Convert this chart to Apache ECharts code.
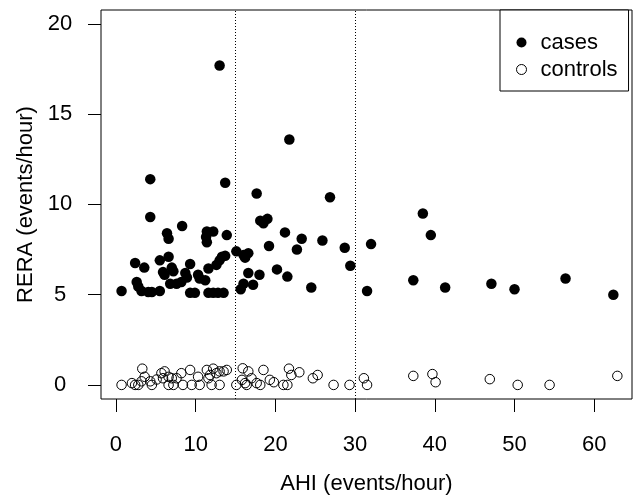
<!DOCTYPE html>
<html>
<head>
<meta charset="utf-8">
<script src="https://cdn.jsdelivr.net/npm/echarts@6/dist/echarts.min.js"></script>
<style>
html,body{margin:0;padding:0;background:#fff;}
#chart{width:635px;height:496px;}
</style>
</head>
<body>
<div id="chart"></div>
<script>
var seriesNames = ['cases', 'controls'];
var xTicks = [0, 10, 20, 30, 40, 50, 60];
var yTicks = [0, 5, 10, 15, 20];
var refLines = [15, 30];

var casesAHI = [0.7, 2.4, 2.6, 2.8, 3.2, 3.55, 4.05, 4.3, 4.3, 4.5, 5.5, 5.5, 5.9, 6.1, 6.4, 6.6, 6.6, 6.8, 7.0, 7.2,
  7.6, 8.2, 8.3, 8.7, 8.9, 9.3, 9.3, 9.9, 10.3, 10.5, 11.2, 11.4, 11.3, 11.4, 12.2, 11.6, 11.6, 12.2, 12.6, 12.8,
  13.0, 13.3, 13.7, 13.0, 13.5, 13.7, 13.9, 15.1, 15.65, 16.0, 16.0, 16.2, 16.6, 16.6, 17.2, 17.65, 18.0, 18.1, 18.5, 19.0,
  19.2, 20.2, 21.2, 21.5, 21.75, 22.7, 23.3, 24.5, 25.9, 26.85, 28.7, 29.4, 31.5, 32.0, 37.3, 38.5, 39.5, 41.3, 47.1, 50.0,
  56.4, 62.4];
var casesRERA = [5.2, 6.75, 5.7, 5.45, 5.2, 6.5, 5.15, 11.4, 9.3, 5.15, 6.9, 5.2, 6.25, 6.1, 8.4, 8.1, 7.1, 5.6, 6.5, 6.3,
  5.6, 5.7, 8.8, 6.2, 5.95, 6.7, 5.1, 5.1, 6.1, 5.9, 5.8, 8.5, 8.2, 7.9, 8.5, 6.45, 5.1, 5.1, 6.65, 5.1,
  6.9, 7.1, 7.15, 17.7, 5.1, 11.2, 8.3, 7.4, 5.3, 7.2, 5.6, 7.05, 7.3, 6.2, 5.55, 10.6, 6.1, 9.1, 8.95, 9.2,
  7.7, 6.4, 8.45, 6.0, 13.6, 7.5, 8.1, 5.4, 8.0, 10.4, 7.6, 6.6, 5.2, 7.8, 5.8, 9.5, 8.3, 5.4, 5.6, 5.3,
  5.9, 5.0];

var controlsAHI = [0.7, 2.0, 2.4, 2.8, 3.2, 3.3, 3.6, 4.3, 4.5, 5.1, 5.7, 6.1, 5.9, 6.6, 7.0, 6.6, 7.2, 7.6, 8.2, 8.4,
  9.3, 9.5, 10.3, 10.5, 11.4, 11.6, 11.8, 12.2, 12.6, 13.0, 13.5, 13.9, 12.0, 13.0, 15.1, 15.9, 15.8, 16.2, 16.4, 17.0,
  16.6, 18.5, 17.65, 18.1, 19.3, 19.8, 21.0, 21.5, 21.7, 22.0, 23.0, 24.7, 25.3, 27.3, 29.3, 31.1, 31.5, 37.3, 39.7, 40.1,
  46.9, 50.4, 54.4, 62.9];
var controlsRERA = [0.0, 0.1, 0.0, 0.0, 0.2, 0.9, 0.45, 0.2, 0.0, 0.3, 0.65, 0.75, 0.37, 0.45, 0.37, 0.0, 0.0, 0.37, 0.65, 0.0,
  0.83, 0.0, 0.45, 0.0, 0.83, 0.37, 0.55, 0.9, 0.65, 0.75, 0.75, 0.83, 0.0, 0.0, 0.0, 0.92, 0.28, 0.1, 0.0, 0.37,
  0.75, 0.83, 0.1, 0.0, 0.28, 0.15, 0.0, 0.0, 0.9, 0.55, 0.7, 0.37, 0.55, 0.0, 0.0, 0.37, 0.0, 0.5, 0.6, 0.15,
  0.32, 0.0, 0.0, 0.5];

function zip(a, b) { return a.map(function (v, i) { return [v, b[i]]; }); }

var FONT = '"Liberation Sans", Arial, sans-serif';
var chart = echarts.init(document.getElementById('chart'), null, { renderer: 'canvas' });
chart.setOption({
  animation: false,
  backgroundColor: '#fff',
  grid: { left: 101, right: 3, top: 10, bottom: 97, show: true, borderColor: '#000', borderWidth: 1,
    backgroundColor: 'transparent', containLabel: false, outerBoundsMode: 'none' },
  xAxis: {
    type: 'value', min: -1.88, max: 64.74,
    name: 'AHI (events/hour)', nameLocation: 'middle', nameGap: 74,
    nameTextStyle: { fontFamily: FONT, fontSize: 22, color: '#000' },
    axisLine: { show: false, onZero: false },
    splitLine: { show: false },
    axisTick: { show: true, inside: false, length: 13, customValues: xTicks, lineStyle: { color: '#000', width: 1 } },
    axisLabel: { show: true, margin: 35, customValues: xTicks, fontFamily: FONT, fontSize: 22, color: '#000' }
  },
  yAxis: {
    type: 'value', min: -0.78, max: 20.77,
    name: 'RERA (events/hour)', nameLocation: 'middle', nameGap: 61, nameRotate: 90,
    nameTextStyle: { fontFamily: FONT, fontSize: 22, color: '#000' },
    axisLine: { show: false, onZero: false },
    splitLine: { show: false },
    axisTick: { show: true, inside: false, length: 13, customValues: yTicks, lineStyle: { color: '#000', width: 1 } },
    axisLabel: { show: true, margin: 41, align: 'center', customValues: yTicks, fontFamily: FONT, fontSize: 22, color: '#000' }
  },
  legend: {
    orient: 'vertical', left: 500, top: 10,
    padding: [19, 11, 8, 16], itemGap: 0,
    itemWidth: 10, itemHeight: 10,
    backgroundColor: '#fff', borderColor: '#000', borderWidth: 1, borderRadius: 0,
    textStyle: { fontFamily: FONT, fontSize: 22, color: '#000', lineHeight: 27, padding: [0, 0, 0, 9] },
    data: [
      { name: seriesNames[0], icon: 'circle', itemStyle: { color: '#000' } },
      { name: seriesNames[1], icon: 'circle', itemStyle: { color: 'transparent', borderColor: '#000', borderWidth: 1 } }
    ]
  },
  series: [
    {
      name: seriesNames[0], type: 'scatter', symbol: 'circle', symbolSize: 10.5,
      itemStyle: { color: '#000', opacity: 1 },
      data: zip(casesAHI, casesRERA),
      markLine: {
        silent: true, symbol: 'none', label: { show: false },
        lineStyle: { color: '#000', width: 1, type: [1, 2] },
        data: refLines.map(function (v) { return { xAxis: v }; })
      }
    },
    {
      name: seriesNames[1], type: 'scatter', symbol: 'circle', symbolSize: 9.5,
      itemStyle: { color: 'transparent', borderColor: '#000', borderWidth: 1, opacity: 1 },
      data: zip(controlsAHI, controlsRERA)
    }
  ]
});
</script>
</body>
</html>
